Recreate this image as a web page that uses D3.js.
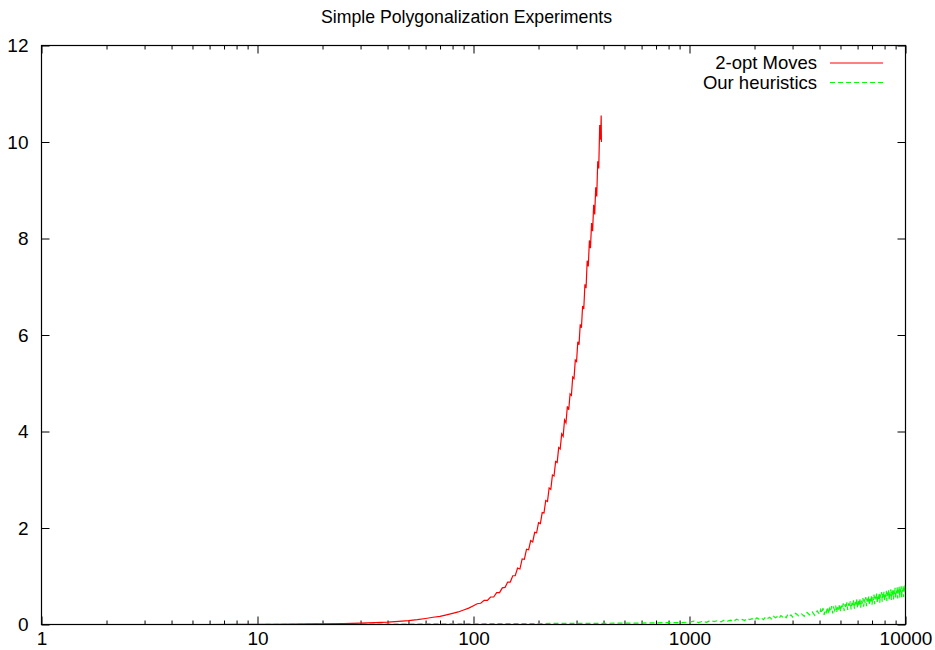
<!DOCTYPE html>
<html>
<head>
<meta charset="utf-8">
<script src="https://cdn.jsdelivr.net/npm/d3@7"></script>
<style>
  body { margin: 0; background: #fff; }
  svg text { font-family: "Liberation Sans", Arial, Helvetica, sans-serif; fill: #000; }
</style>
</head>
<body>
<svg id="chart" width="935" height="650"></svg>
<script>
// Data
var title = "Simple Polygonalization Experiments";
var seriesNames = ["2-opt Moves", "Our heuristics"];
var xMajor = [1, 10, 100, 1000, 10000];
var yTicks = [0, 2, 4, 6, 8, 10, 12];

// 2-opt moves: n points vs seconds
var redN = [1, 2, 3, 4, 5, 6, 8, 10, 12, 15, 18, 20, 25, 30, 35, 40, 45, 50, 55, 60, 65, 70, 75, 80, 85, 90, 95,
  100, 104, 108, 112, 116, 120, 124, 128, 132, 136, 140, 144, 148, 152, 156, 160, 164, 168, 172, 176, 180, 184, 188, 192, 196,
  200, 204, 208, 212, 216, 220, 224, 228, 232, 236, 240, 244, 248, 252, 256, 260, 264, 268, 272, 276, 280, 284, 288, 292, 296,
  300, 304, 308, 312, 316, 320, 324, 328, 332, 336, 340, 344, 348, 352, 356, 360, 364, 368, 372, 376, 380, 384, 388, 390, 391];
var redT = [0, 0, 0, 0, 0, 0, 0.001, 0.003, 0.005, 0.008, 0.012, 0.015, 0.02, 0.03, 0.04, 0.05, 0.065, 0.08, 0.1, 0.125, 0.15, 0.17, 0.2, 0.23, 0.26, 0.3, 0.34,
  0.39, 0.43, 0.44, 0.5, 0.5, 0.57, 0.57, 0.66, 0.66, 0.76, 0.77, 0.88, 0.88, 1.01, 1.01, 1.17, 1.15, 1.36, 1.35, 1.56, 1.55, 1.74, 1.71, 1.91, 1.9,
  2.11, 2.09, 2.32, 2.31, 2.57, 2.55, 2.83, 2.8, 3.1, 3.08, 3.38, 3.36, 3.67, 3.64, 3.95, 3.9, 4.24, 4.18, 4.52, 4.45, 4.78, 4.75, 5.13, 5.1, 5.48,
  5.45, 5.86, 5.8, 6.22, 6.15, 6.6, 6.54, 7.05, 6.97, 7.54, 7.42, 7.96, 7.8, 8.32, 8.15, 8.7, 8.5, 9.06, 8.87, 9.6, 9.45, 10.35, 10.05, 10.55, 10.0];

// our heuristics: n points vs seconds (band edges of the noisy trace)
var greenN = [1, 10, 50, 100, 150, 200, 300, 400, 500, 600, 700, 800, 900, 1000,
  1050, 1100, 1150, 1200, 1250, 1300, 1350, 1400, 1450, 1500, 1550, 1600, 1650, 1700, 1750, 1800, 1850, 1900, 1950,
  2000, 2050, 2100, 2150, 2200, 2250, 2300, 2350, 2400, 2450, 2500, 2550, 2600, 2650, 2700, 2750, 2800, 2850, 2900, 2950,
  3000, 3100, 3200, 3300, 3400, 3500, 3600, 3700, 3800, 3900,
  4000, 4050, 4100, 4150, 4200, 4250, 4300, 4350, 4400, 4450, 4500, 4550, 4600, 4650, 4700, 4750, 4800, 4850, 4900, 4950,
  5000, 5050, 5100, 5150, 5200, 5250, 5300, 5350, 5400, 5450, 5500, 5550, 5600, 5650, 5700, 5750, 5800, 5850, 5900, 5950,
  6000, 6050, 6100, 6150, 6200, 6250, 6300, 6350, 6400, 6450, 6500, 6550, 6600, 6650, 6700, 6750, 6800, 6850, 6900, 6950,
  7000, 7050, 7100, 7150, 7200, 7250, 7300, 7350, 7400, 7450, 7500, 7550, 7600, 7650, 7700, 7750, 7800, 7850, 7900, 7950,
  8000, 8050, 8100, 8150, 8200, 8250, 8300, 8350, 8400, 8450, 8500, 8550, 8600, 8650, 8700, 8750, 8800, 8850, 8900, 8950,
  9000, 9050, 9100, 9150, 9200, 9250, 9300, 9350, 9400, 9450, 9500, 9550, 9600, 9650, 9700, 9750, 9800, 9850, 9900, 9950, 10000];
var greenT = [0, 0, 0.01, 0.015, 0.02, 0.02, 0.025, 0.025, 0.03, 0.03, 0.035, 0.04, 0.038, 0.05,
  0.07, 0.04, 0.065, 0.045, 0.085, 0.06, 0.08, 0.055, 0.095, 0.07, 0.09, 0.065, 0.11, 0.085, 0.105, 0.08, 0.125, 0.1, 0.12,
  0.09, 0.14, 0.11, 0.135, 0.1, 0.155, 0.125, 0.15, 0.115, 0.17, 0.14, 0.165, 0.13, 0.185, 0.155, 0.18, 0.14, 0.205, 0.17, 0.2,
  0.155, 0.23, 0.18, 0.22, 0.17, 0.25, 0.2, 0.26, 0.19, 0.28,
  0.21, 0.31, 0.24, 0.34, 0.2, 0.3, 0.25, 0.36, 0.22, 0.33, 0.27, 0.38, 0.23, 0.35, 0.29, 0.39, 0.25, 0.37, 0.31, 0.42,
  0.27, 0.39, 0.33, 0.44, 0.28, 0.42, 0.34, 0.46, 0.3, 0.44, 0.36, 0.48, 0.31, 0.45, 0.38, 0.5, 0.33, 0.47, 0.4, 0.52,
  0.34, 0.49, 0.41, 0.54, 0.35, 0.5, 0.43, 0.55, 0.37, 0.52, 0.45, 0.57, 0.38, 0.54, 0.46, 0.59, 0.4, 0.55, 0.48, 0.6,
  0.41, 0.57, 0.5, 0.62, 0.42, 0.58, 0.51, 0.64, 0.44, 0.6, 0.53, 0.65, 0.45, 0.62, 0.55, 0.67, 0.47, 0.63, 0.56, 0.68,
  0.48, 0.65, 0.57, 0.7, 0.49, 0.66, 0.59, 0.71, 0.5, 0.68, 0.6, 0.73, 0.51, 0.69, 0.62, 0.74, 0.52, 0.7, 0.63, 0.76,
  0.53, 0.71, 0.65, 0.77, 0.54, 0.72, 0.66, 0.78, 0.55, 0.74, 0.67, 0.79, 0.56, 0.75, 0.68, 0.8, 0.57, 0.76, 0.7, 0.81, 0.6];

// Layout
var svg = d3.select("#chart"),
    plotLeft = 41.5, plotRight = 905.5, plotTop = 45.5, plotBottom = 624.5,
    titleSize = 17.7, tickSize = 19, legendSize = 18.5;

var x = d3.scaleLog().domain([1, 10000]).range([plotLeft, plotRight]);
var y = d3.scaleLinear().domain([0, 12]).range([plotBottom, plotTop]);

var xMinor = [];
xMajor.slice(0, -1).forEach(function(m) {
  for (var k = 2; k <= 9; k++) xMinor.push(m * k);
});

// Title
svg.append("text")
    .attr("x", 466.5).attr("y", 23)
    .attr("text-anchor", "middle")
    .style("font-size", titleSize + "px")
    .text(title);

// Axes (ticks point inward, mirrored on top/right)
function styleAxis(g) {
  g.select(".domain").remove();
  g.selectAll("line").attr("stroke", "#000").attr("stroke-width", 1);
  g.selectAll("text").style("font-size", tickSize + "px").attr("font-family", null).attr("fill", "#000");
}

svg.append("g").attr("transform", "translate(0," + plotBottom + ")")
    .call(d3.axisBottom(x).tickValues(xMajor).tickSize(-8).tickPadding(7).tickFormat(d3.format("d")))
    .call(styleAxis);
svg.append("g").attr("transform", "translate(0," + plotBottom + ")")
    .call(d3.axisBottom(x).tickValues(xMinor).tickSize(-4).tickFormat(""))
    .call(styleAxis);
svg.append("g").attr("transform", "translate(0," + plotTop + ")")
    .call(d3.axisTop(x).tickValues(xMajor).tickSize(-8).tickFormat(""))
    .call(styleAxis);
svg.append("g").attr("transform", "translate(0," + plotTop + ")")
    .call(d3.axisTop(x).tickValues(xMinor).tickSize(-4).tickFormat(""))
    .call(styleAxis);
svg.append("g").attr("transform", "translate(" + plotLeft + ",0)")
    .call(d3.axisLeft(y).tickValues(yTicks).tickSize(-8).tickPadding(13).tickFormat(d3.format("d")))
    .call(styleAxis);
svg.append("g").attr("transform", "translate(" + plotRight + ",0)")
    .call(d3.axisRight(y).tickValues(yTicks).tickSize(-8).tickFormat(""))
    .call(styleAxis);

// Lines
var line = d3.line()
    .x(function(d) { return x(d[0]); })
    .y(function(d) { return y(d[1]); });

var redData = d3.zip(redN, redT),
    greenData = d3.zip(greenN, greenT);

svg.append("path").datum(greenData)
    .attr("d", line)
    .attr("fill", "none")
    .attr("stroke", "#00ff00")
    .attr("stroke-width", 1.2)
    .attr("stroke-dasharray", "5,3");

svg.append("path").datum(redData)
    .attr("d", line)
    .attr("fill", "none")
    .attr("stroke", "#ff0000")
    .attr("stroke-width", 1.2);

// Border
svg.append("rect")
    .attr("x", plotLeft).attr("y", plotTop)
    .attr("width", plotRight - plotLeft).attr("height", plotBottom - plotTop)
    .attr("fill", "none").attr("stroke", "#000").attr("stroke-width", 1.2);

// Legend
var legendColors = ["#ff0000", "#00ff00"],
    legendDash = [null, "5,3"],
    legendY = [63, 82.5];
seriesNames.forEach(function(name, i) {
  var ly = legendY[i];
  svg.append("text")
      .attr("x", 817).attr("y", ly).attr("dy", "0.35em")
      .attr("text-anchor", "end")
      .style("font-size", legendSize + "px")
      .text(name);
  svg.append("line")
      .attr("x1", 830).attr("x2", 883)
      .attr("y1", ly).attr("y2", ly)
      .attr("stroke", legendColors[i])
      .attr("stroke-width", 1)
      .attr("stroke-dasharray", legendDash[i]);
});
</script>
</body>
</html>
